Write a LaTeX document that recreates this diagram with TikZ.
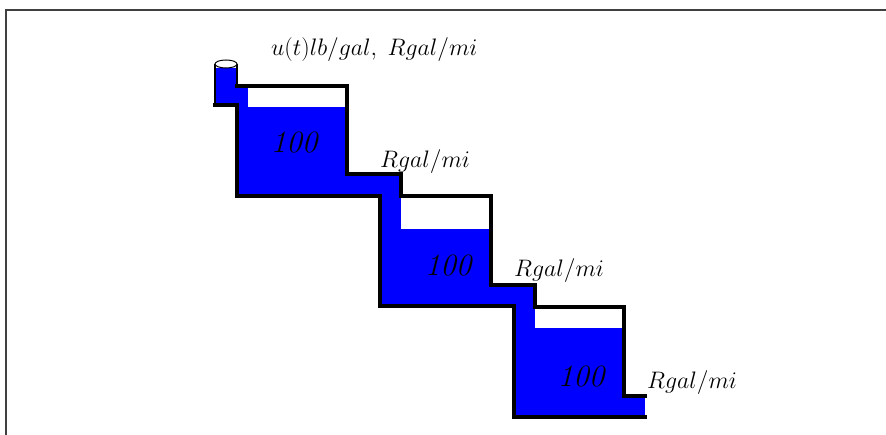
\documentclass[tikz,border=0pt]{standalone}
\usepackage{graphicx}
\newcommand{\ratetext}[1]{\scalebox{1.15}{\huge$#1$}}
\begin{document}
\begin{tikzpicture}[x=1pt,y=-1pt,
  wall/.style={line width=3.2pt,line join=miter,line cap=rect},
  water/.style={fill=blue},
  rate/.style={inner sep=0pt,anchor=west},
  amount/.style={font=\fontsize{31}{35}\selectfont\itshape,inner sep=0pt}]
\useasboundingbox (0,0) rectangle (886,435);
% frame
\draw[line width=1.5pt,black!75] (6,436) -- (6,10) -- (887,10);
% water
\fill[water] (216,68) rectangle (237,105);
\fill[water] (236,86) rectangle (248,107);
\fill[water] (237,107) rectangle (347,196);
\fill[water] (346,174) rectangle (401,196);
\fill[water] (380,195) rectangle (401,229);
\fill[water] (380,229) rectangle (491,306);
\fill[water] (490,285) rectangle (535,306);
\fill[water] (514,305) rectangle (535,328);
\fill[water] (514,328) rectangle (624,417);
\fill[water] (623,396) rectangle (645,417);
% inlet cylinder
\draw[line width=2pt] (215,64) -- (215,105);
\draw[line width=1.6pt] (237,64) -- (237,86);
\draw[line width=1pt,fill=white] (226,64) ellipse [x radius=11,y radius=4];
% tank walls
\draw[wall] (237,86) -- (347,86) -- (347,174) -- (401,174) -- (401,196)
  -- (491,196) -- (491,285) -- (535,285) -- (535,307) -- (624,307)
  -- (624,396) -- (645,396);
\draw[wall] (215,105) -- (237,105) -- (237,196) -- (380,196)
  -- (380,306) -- (514,306) -- (514,417) -- (645,417);
% labels
\node[rate] (in) at (271,50) {\ratetext{u(t) lb/gal,\;Rgal/mi}};
\node[rate] (out1) at (380,162) {\ratetext{Rgal/mi}};
\node[rate] (out2) at (514,271) {\ratetext{Rgal/mi}};
\node[rate] (out3) at (647,383) {\ratetext{Rgal/mi}};
\node[amount] (x1) at (294,143) {100};
\node[amount] (x2) at (448,266) {100};
\node[amount] (x3) at (581,377) {100};
\end{tikzpicture}
\end{document}
